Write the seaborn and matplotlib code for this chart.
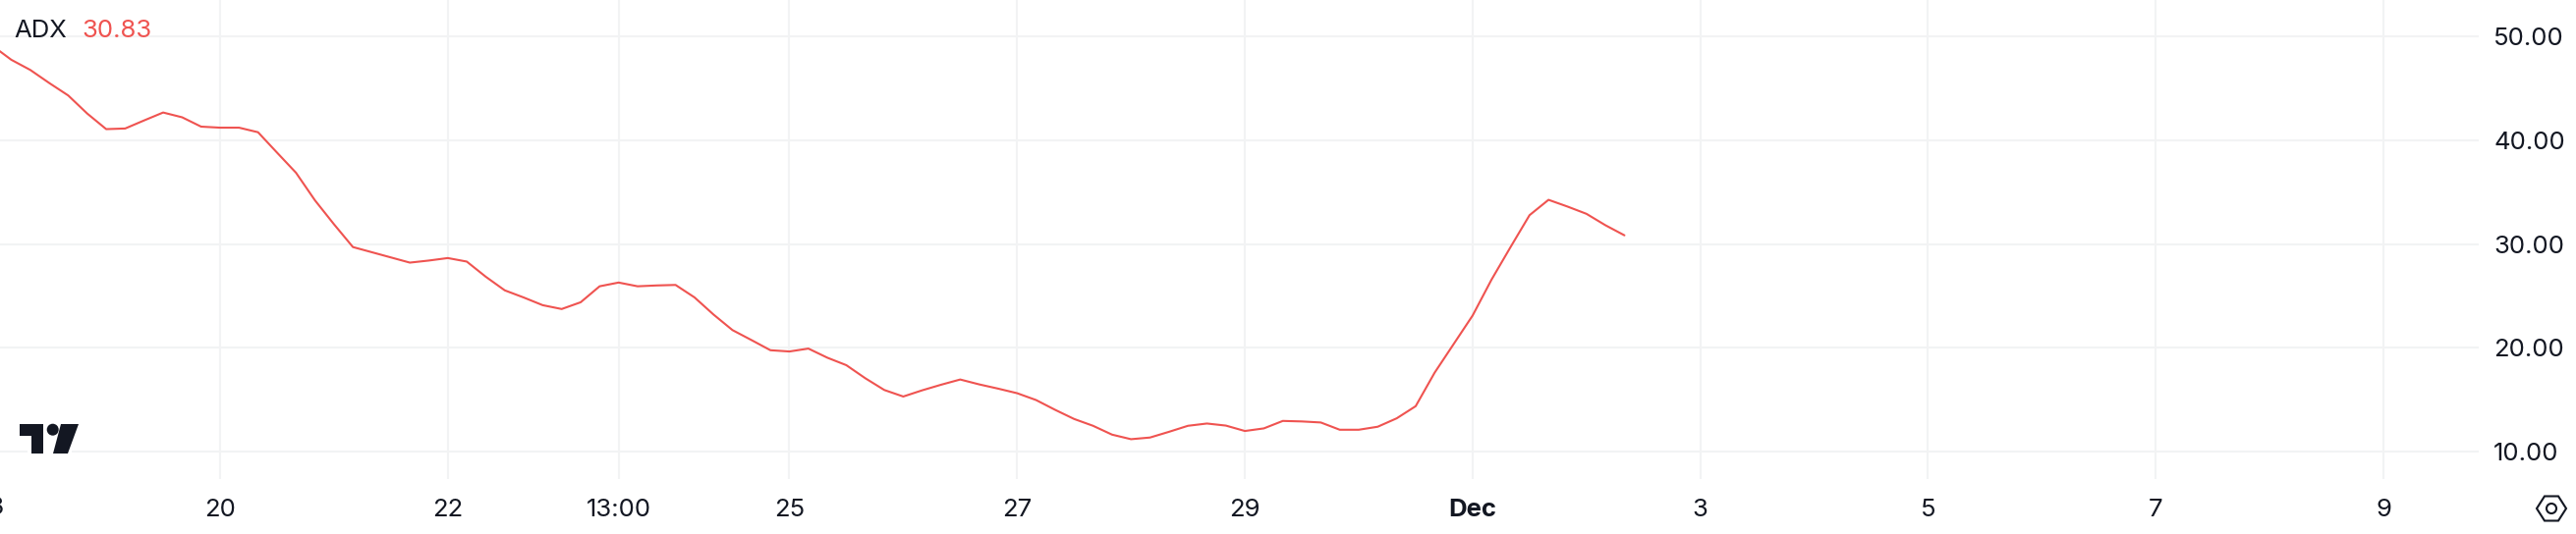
import matplotlib
matplotlib.use("Agg")
import matplotlib.pyplot as plt
from matplotlib.patches import Polygon, Circle, Rectangle
from matplotlib.transforms import blended_transform_factory
import numpy as np
import pandas as pd
import seaborn as sns

# Data (4-hourly bars)
start_time = "2024-11-18 00:00"
bar_step = "4h"
adx_values = [
    49.1, 47.74, 46.76, 45.5, 44.3, 42.56, 41.06, 41.12, 41.9, 42.66, 42.2, 41.3,
    41.2, 41.2, 40.76, 38.8, 36.86, 34.2, 31.9, 29.7, 29.2, 28.7, 28.2, 28.4,
    28.64, 28.3, 26.84, 25.53, 24.84, 24.1, 23.73, 24.38, 25.92, 26.28, 25.92, 26.0,
    26.05, 24.85, 23.2, 21.7, 20.74, 19.76, 19.64, 19.92, 19.04, 18.32, 17.06, 15.93,
    15.3, 15.9, 16.44, 16.94, 16.47, 16.06, 15.62, 14.96, 14.02, 13.14, 12.48, 11.63,
    11.19, 11.35, 11.9, 12.48, 12.7, 12.5, 11.98, 12.23, 12.95, 12.9, 12.8, 12.1,
    12.1, 12.39, 13.2, 14.37, 17.6, 20.35, 23.1, 26.57, 29.7, 32.77, 34.25, 33.6,
    32.9, 31.8, 30.83,
]
x_tick_times = ["2024-11-20 00:00", "2024-11-22 00:00", "2024-11-23 12:00",
                "2024-11-25 00:00", "2024-11-27 00:00", "2024-11-29 00:00", "2024-12-01 00:00",
                "2024-12-03 00:00", "2024-12-05 00:00", "2024-12-07 00:00", "2024-12-09 00:00"]
x_tick_labels = ["20", "22", "13:00", "25", "27", "29", "Dec", "3", "5", "7", "9"]
cut_tick_time = "2024-11-18 00:00"
cut_tick_label = "18"
y_ticks = [10, 20, 30, 40, 50]
legend_name = "ADX"
legend_value = "30.83"

W, H = 2622, 544
INK = "#131722"
RED = "#EF5350"
GRID = "#F2F3F4"

sns.set_style("white")
plt.rcParams["font.family"] = ["Inter", "DejaVu Sans"]

df = pd.DataFrame({
    "time": pd.date_range(start_time, periods=len(adx_values), freq=bar_step),
    "adx": adx_values,
})

fig = plt.figure(figsize=(W / 100, H / 100), dpi=100, facecolor="white")
ax_right, ax_bottom = 2523, 488
ax = fig.add_axes([0, 1 - ax_bottom / H, ax_right / W, ax_bottom / H])

sns.lineplot(data=df, x="time", y="adx", ax=ax, color=RED, linewidth=1.5,
             errorbar=None, zorder=3)

ax.set_xlabel("")
ax.set_ylabel("")
ax.set_xticks(pd.to_datetime(x_tick_times))
ax.set_xticklabels(x_tick_labels, fontsize=18.5, color=INK)
for lab in ax.get_xticklabels():
    if lab.get_text() == "Dec":
        lab.set_fontweight("bold")
ax.yaxis.tick_right()
ax.set_yticks(y_ticks)
ax.set_yticklabels([f"{v:.2f}" for v in y_ticks], fontsize=18.5, color=INK)
ax.tick_params(axis="x", length=0, pad=14.5)
ax.tick_params(axis="y", length=0, pad=11)
ax.grid(True, color=GRID, linewidth=1.5)
ax.set_axisbelow(True)
for s in ax.spines.values():
    s.set_visible(False)

# scale: Nov 20 at 224 px, 115.9 px per day; 50 at 37 px, 10 at 460 px
t20 = pd.Timestamp("2024-11-20")
px_per_day = 115.9
ax.set_xlim(t20 - pd.Timedelta(days=224 / px_per_day),
            t20 + pd.Timedelta(days=(ax_right - 224) / px_per_day))
px_per_unit = (460 - 37) / 40
ax.set_ylim(50 - (ax_bottom - 37) / px_per_unit, 50 + 37 / px_per_unit)

# The first date label sits on the left edge of the picture and is cut there
ax.text(pd.Timestamp(cut_tick_time), -30 / ax_bottom, cut_tick_label, fontsize=18.5, color=INK,
        ha="center", va="center", clip_on=False,
        transform=blended_transform_factory(ax.transData, ax.transAxes))

# Overlay in pixel coordinates for legend, logo and settings icon
ov = fig.add_axes([0, 0, 1, 1], facecolor="none")
ov.set_xlim(0, W)
ov.set_ylim(H, 0)
ov.axis("off")
ov.text(14, 31, legend_name, fontsize=18.5, color=INK, va="center", ha="left")
ov.text(83, 31, legend_value, fontsize=18.5, color=RED, va="center", ha="left")

# TradingView mark
ov.add_patch(Rectangle((28, 456), 45, 7, fc="white", ec="none"))
ov.add_patch(Polygon([(20, 432), (44, 432), (44, 462), (32, 462), (32, 444), (20, 444)],
                     closed=True, fc=INK, ec="none"))
ov.add_patch(Circle((53.7, 437.7), 6, fc=INK, ec="none"))
ov.add_patch(Polygon([(62, 432), (80, 432), (69, 462), (54, 462)], closed=True, fc=INK, ec="none"))

# Settings hexagon
cx, cy = 2597, 518
ov.add_patch(Polygon([(cx - 15, cy), (cx - 7, cy - 12.5), (cx + 7, cy - 12.5), (cx + 15, cy),
                      (cx + 7, cy + 12.5), (cx - 7, cy + 12.5)], closed=True, fc="none",
                     ec=INK, lw=1.5))
ov.add_patch(Circle((cx, cy), 5, fc="none", ec=INK, lw=1.5))

fig.savefig("out.png", dpi=100, facecolor="white")
